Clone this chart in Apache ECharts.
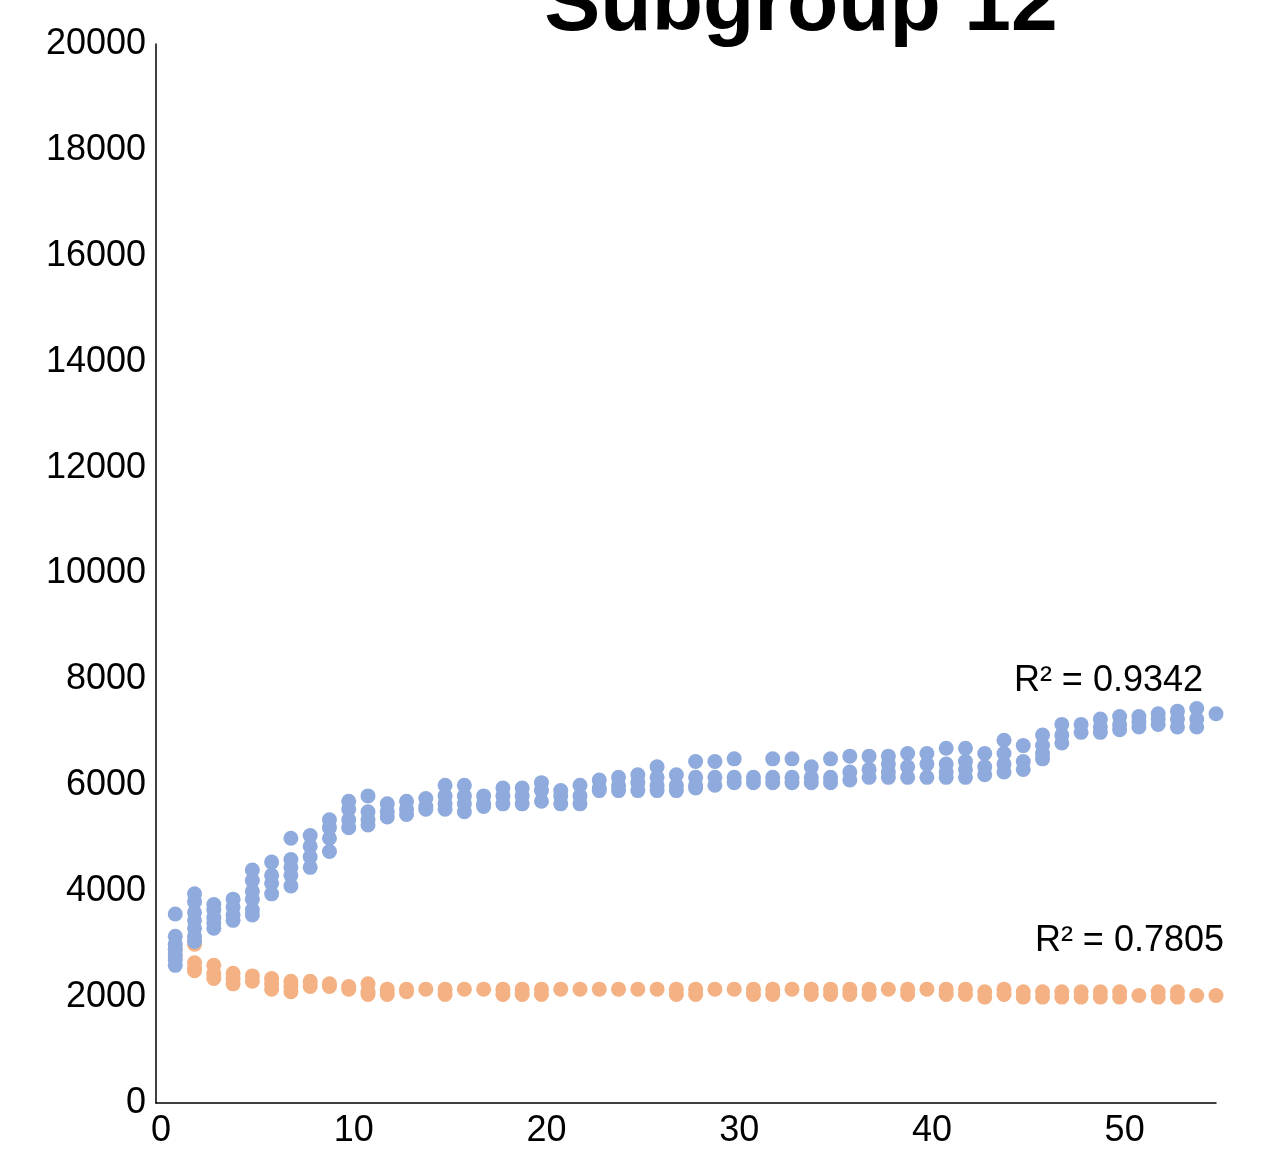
<!DOCTYPE html>
<html>
<head>
<meta charset="utf-8">
<script src="https://cdn.jsdelivr.net/npm/echarts@6/dist/echarts.min.js"></script>
<style>
  html, body { margin: 0; padding: 0; background: #fff; overflow: hidden; }
  #chart { width: 1277px; height: 1149px; }
</style>
</head>
<body>
<div id="chart"></div>
<script>
// x positions 1..55
const xValues = [];
for (let i = 1; i <= 55; i++) xValues.push(i);

// blue series: readings at each x
const blueValues = [
  [3570, 3150, 3000, 2900, 2800, 2700, 2600],
  [3950, 3800, 3600, 3450, 3300, 3150, 3050],
  [3750, 3650, 3500, 3400, 3300],
  [3850, 3700, 3550, 3450],
  [4400, 4200, 4000, 3850, 3650, 3550],
  [4550, 4300, 4150, 3950],
  [5000, 4600, 4450, 4300, 4100],
  [5050, 4850, 4650, 4450],
  [5350, 5200, 5000, 4750],
  [5700, 5550, 5350, 5200],
  [5800, 5500, 5350, 5250],
  [5650, 5500, 5400],
  [5700, 5550, 5450],
  [5750, 5600, 5550],
  [6000, 5800, 5650, 5550],
  [6000, 5800, 5650, 5500],
  [5800, 5650, 5600],
  [5950, 5800, 5650],
  [5950, 5800, 5650],
  [6050, 5900, 5700],
  [5900, 5800, 5650],
  [6000, 5800, 5650],
  [6100, 5950, 5900],
  [6150, 6000, 5900],
  [6200, 6050, 5900],
  [6350, 6150, 6000, 5900],
  [6200, 6000, 5900],
  [6450, 6150, 6000, 5950],
  [6450, 6150, 6000],
  [6500, 6150, 6050],
  [6150, 6050],
  [6500, 6150, 6050],
  [6500, 6150, 6050],
  [6350, 6150, 6050],
  [6500, 6150, 6050],
  [6550, 6250, 6100],
  [6550, 6300, 6150],
  [6550, 6400, 6250, 6150],
  [6600, 6350, 6150],
  [6600, 6400, 6150],
  [6700, 6400, 6250, 6150],
  [6700, 6450, 6300, 6150],
  [6600, 6350, 6200],
  [6850, 6600, 6400, 6250],
  [6750, 6450, 6300],
  [6950, 6750, 6600, 6500],
  [7150, 6950, 6800],
  [7150, 7000],
  [7250, 7100, 7000],
  [7300, 7150, 7050],
  [7300, 7200, 7100],
  [7350, 7250, 7150],
  [7400, 7250, 7100],
  [7450, 7250, 7100],
  [7350]
];

// orange series: readings at each x
const orangeValues = [
  [2900, 2750],
  [3000, 2650, 2550, 2500],
  [2600, 2450, 2350],
  [2450, 2350, 2250],
  [2400, 2300],
  [2350, 2250, 2150],
  [2300, 2200, 2100],
  [2300, 2200],
  [2250, 2200],
  [2200, 2150],
  [2250, 2100, 2050],
  [2150, 2050],
  [2150, 2100],
  [2150],
  [2150, 2050],
  [2150],
  [2150],
  [2150, 2050],
  [2150, 2050],
  [2150, 2050],
  [2150],
  [2150],
  [2150],
  [2150],
  [2150],
  [2150],
  [2150, 2050],
  [2150, 2050],
  [2150],
  [2150],
  [2150, 2050],
  [2150, 2050],
  [2150],
  [2150, 2050],
  [2150, 2050],
  [2150, 2050],
  [2150, 2050],
  [2150],
  [2150, 2050],
  [2150],
  [2150, 2050],
  [2150, 2050],
  [2100, 2000],
  [2150, 2050],
  [2100, 2000],
  [2100, 2000],
  [2100, 2000],
  [2100, 2000],
  [2100, 2000],
  [2100, 2000],
  [2030],
  [2100, 2000],
  [2100, 2000],
  [2030],
  [2030]
];

const r2Labels = ["R\u00b2 = 0.9342", "R\u00b2 = 0.7805"];

function toPairs(vals) {
  const out = [];
  vals.forEach((list, i) => {
    list.forEach(v => out.push([xValues[i], v]));
  });
  return out;
}

const chart = echarts.init(document.getElementById("chart"));
const font = "Liberation Sans, Arial, sans-serif";

const option = {
  backgroundColor: "#fff",
  animation: false,
  grid: { left: 156, right: 61, top: 44, bottom: 40, containLabel: false },
  xAxis: {
    type: "value",
    min: 0,
    max: 55,
    interval: 10,
    splitLine: { show: false },
    axisTick: { show: false },
    axisLine: { lineStyle: { color: "#000", width: 1.5 } },
    axisLabel: {
      color: "#000",
      fontSize: 36,
      fontFamily: font,
      margin: 10,
      padding: [0, 0, 0, 10],
      showMaxLabel: false
    }
  },
  yAxis: {
    type: "value",
    min: 0,
    max: 20000,
    interval: 2000,
    splitLine: { show: false },
    axisTick: { show: false },
    axisLine: { show: true, lineStyle: { color: "#000", width: 1.5 } },
    axisLabel: {
      color: "#000",
      fontSize: 36,
      fontFamily: font,
      margin: 10,
      formatter: v => String(v)
    }
  },
  graphic: [
    {
      type: "text",
      style: {
        text: "Subgroup 12",
        x: 801,
        y: 7,
        align: "center",
        verticalAlign: "middle",
        font: "bold 84px " + font,
        fill: "#000"
      }
    },
    {
      type: "text",
      style: {
        text: r2Labels[0],
        x: 1203,
        y: 681,
        align: "right",
        verticalAlign: "middle",
        font: "36px " + font,
        fill: "#000"
      }
    },
    {
      type: "text",
      style: {
        text: r2Labels[1],
        x: 1224,
        y: 941,
        align: "right",
        verticalAlign: "middle",
        font: "36px " + font,
        fill: "#000"
      }
    }
  ],
  series: [
    {
      name: "orange",
      type: "scatter",
      symbol: "circle",
      symbolSize: 15,
      itemStyle: { color: "#f4b183", opacity: 1 },
      data: toPairs(orangeValues)
    },
    {
      name: "blue",
      type: "scatter",
      symbol: "circle",
      symbolSize: 15,
      itemStyle: { color: "#8faadc", opacity: 1 },
      data: toPairs(blueValues)
    }
  ]
};

chart.setOption(option);
</script>
</body>
</html>
